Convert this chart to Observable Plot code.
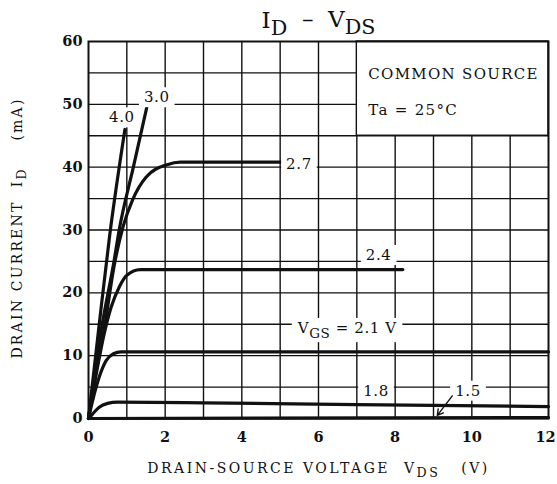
<!DOCTYPE html>
<html><head><meta charset="utf-8">
<script src="https://cdn.jsdelivr.net/npm/d3@7"></script>
<script src="https://cdn.jsdelivr.net/npm/@observablehq/plot@0.6"></script>
<style>
html,body{margin:0;padding:0;background:#fff;}
#chart{width:557px;height:484px;}
#chart text{white-space:pre;}
</style>
</head><body><div id="chart"></div>
<script>
// ---- data ----
const vgsLabels = ["4.0", "3.0", "2.7", "2.4", "2.1", "1.8", "1.5"];
const curve40 = [[0,0],[0.28,15],[0.55,29],[0.95,46]];
const curve30 = [[0,0],[0.33,14],[0.67,25.2],[0.8,30],[1.17,40],[1.52,49.5]];
const curve27 = [[0,0],[0.2,7.5],[0.43,15],[0.66,24],[0.9,30.5],[1.15,34.8],[1.5,38.4],[2.05,40.4],[2.4,40.8],[5.03,40.8]];
const curve24 = [[0,0],[0.2,7],[0.41,13.5],[0.59,17.7],[0.8,20.9],[1.0,22.8],[1.35,23.7],[8.2,23.7]];
const curve21 = [[0,0],[0.11,2.9],[0.28,6.6],[0.46,9.2],[0.65,10.3],[0.85,10.6],[12,10.6]];
const curve18 = [[0,0],[0.11,0.75],[0.28,1.8],[0.5,2.4],[0.75,2.6],[3,2.5],[7,2.2],[12,1.9]];
const curve15 = [[0,0],[12,0.15]];
const xTicks = [0, 2, 4, 6, 8, 10, 12];
const yTicks = [0, 10, 20, 30, 40, 50, 60];
const xGrid = [1,2,3,4,5,6,7,8,9,10,11];
const yGrid = [5,10,15,20,25,30,35,40,45,50,55];
const curveLabels = [
  {v: 0.87, i: 47.9, t: "4.0"},
  {v: 1.78, i: 51.1, t: "3.0"},
  {v: 5.49, i: 40.4, t: "2.7"},
  {v: 7.57, i: 26.0, t: "2.4"},
  {v: 6.75, i: 14.3, t: "V_{GS} = 2.1 V"},
  {v: 7.5, i: 4.3, t: "1.8"},
  {v: 9.9, i: 4.4, t: "1.5"}
];
const arrow15 = [{x1: 9.49, y1: 3.6, x2: 9.1, y2: 0.5}];
const boxText = [
  {v: 7.3, i: 54.8, t: "COMMON SOURCE"},
  {v: 7.3, i: 49.0, t: "Ta = 25°C"}
];
const titleText = "I_{D}  –  V_{DS}";
const xLabel = "DRAIN-SOURCE VOLTAGE  V_{DS}   (V)";
const yLabel = "DRAIN CURRENT  I_{D}    (mA)";

const curves = [curve40, curve30, curve27, curve24, curve21, curve18, curve15];
const lineData = curves.flatMap((c, k) => c.map(([v, i]) => ({v, i, s: vgsLabels[k]})));

const font = "DejaVu Serif";
const ink = "#111";

const chart = Plot.plot({
  width: 557, height: 484,
  marginLeft: 88, marginRight: 9, marginTop: 41, marginBottom: 66,
  style: {fontFamily: font, background: "#fff", color: ink},
  x: {domain: [0, 12], label: null},
  y: {domain: [0, 60], label: null},
  marks: [
    Plot.ruleX(xGrid, {stroke: ink, strokeWidth: 1.4}),
    Plot.ruleY(yGrid, {stroke: ink, strokeWidth: 1.4}),
    Plot.rect([{x1: 7, x2: 12, y1: 45, y2: 60}], {x1: "x1", x2: "x2", y1: "y1", y2: "y2", fill: "white", stroke: ink, strokeWidth: 1.4}),
    Plot.line(lineData, {x: "v", y: "i", z: "s", stroke: ink, strokeWidth: 3.2, curve: "monotone-x"}),
    Plot.text(curveLabels, {x: "v", y: "i", text: "t", fontSize: 15, fill: ink}),
    Plot.arrow(arrow15, {x1: "x1", y1: "y1", x2: "x2", y2: "y2", stroke: ink, strokeWidth: 1.4, headLength: 7, bend: 0}),
    Plot.text(boxText, {x: "v", y: "i", text: "t", textAnchor: "start", fontSize: 15, fill: ink}),
    Plot.frame({stroke: ink, strokeWidth: 2}),
    Plot.axisX({ticks: xTicks, tickSize: 0, tickPadding: 13, fontSize: 14.5, fontWeight: "bold", label: null}),
    Plot.axisY({ticks: yTicks, tickSize: 0, tickPadding: 6, fontSize: 14.5, fontWeight: "bold", label: null}),
    Plot.text([titleText], {frameAnchor: "top", lineAnchor: "middle", dy: -21, fontSize: 23, fill: ink}),
    Plot.text([xLabel], {frameAnchor: "bottom", lineAnchor: "middle", dy: 50, fontSize: 14, fill: ink}),
    Plot.text([yLabel], {frameAnchor: "left", textAnchor: "middle", lineAnchor: "middle", dx: -71, dy: -2, rotate: -90, fontSize: 14, fill: ink})
  ]
});

document.getElementById("chart").appendChild(chart);
const svg = d3.select(chart);

// tag texts by role (before subscripts change their content)
const curveSet = new Set(curveLabels.map(d => d.t));
const boxSet = new Set(boxText.map(d => d.t));
svg.selectAll("text").each(function() {
  const s = this.textContent;
  if (curveSet.has(s)) this.setAttribute("data-role", "curve");
  else if (boxSet.has(s)) this.setAttribute("data-role", "box");
  else if (s === xLabel) this.setAttribute("data-role", "xaxis");
  else if (s === yLabel) this.setAttribute("data-role", "yaxis");
  else if (s === "12") this.setAttribute("dx", "-3");
});
svg.selectAll('text[data-role="xaxis"]').style("letter-spacing", "2.5px");
svg.selectAll('text[data-role="yaxis"]').style("letter-spacing", "2.2px");
svg.selectAll('text[data-role="box"]').style("letter-spacing", "1.3px");
svg.selectAll('text[data-role="curve"]').style("letter-spacing", "0.6px");

// turn "_{...}" into subscript tspans
svg.selectAll("text").each(function() {
  const el = this;
  const s = el.textContent;
  if (!s.includes("_{")) return;
  while (el.firstChild) el.removeChild(el.firstChild);
  const parts = s.split(/(_\{[^}]*\})/);
  let pending = false;
  for (const p of parts) {
    if (!p) continue;
    const ts = document.createElementNS("http://www.w3.org/2000/svg", "tspan");
    if (p.startsWith("_{")) {
      ts.textContent = p.slice(2, -1);
      ts.setAttribute("dy", "0.35em");
      ts.setAttribute("font-size", "90%");
      pending = true;
    } else {
      ts.textContent = p;
      if (pending) { ts.setAttribute("dy", "-0.35em"); pending = false; }
    }
    el.appendChild(ts);
  }
});

// white label backgrounds that break the grid, as in the reference
svg.selectAll('text[data-role="curve"]').each(function() {
  const b = this.getBBox();
  const r = document.createElementNS("http://www.w3.org/2000/svg", "rect");
  r.setAttribute("x", b.x - 5);
  r.setAttribute("y", b.y - 1);
  r.setAttribute("width", b.width + 10);
  r.setAttribute("height", b.height + 2);
  r.setAttribute("fill", "white");
  const tr = this.getAttribute("transform");
  if (tr) r.setAttribute("transform", tr);
  this.parentNode.insertBefore(r, this);
});
</script>
</body></html>
